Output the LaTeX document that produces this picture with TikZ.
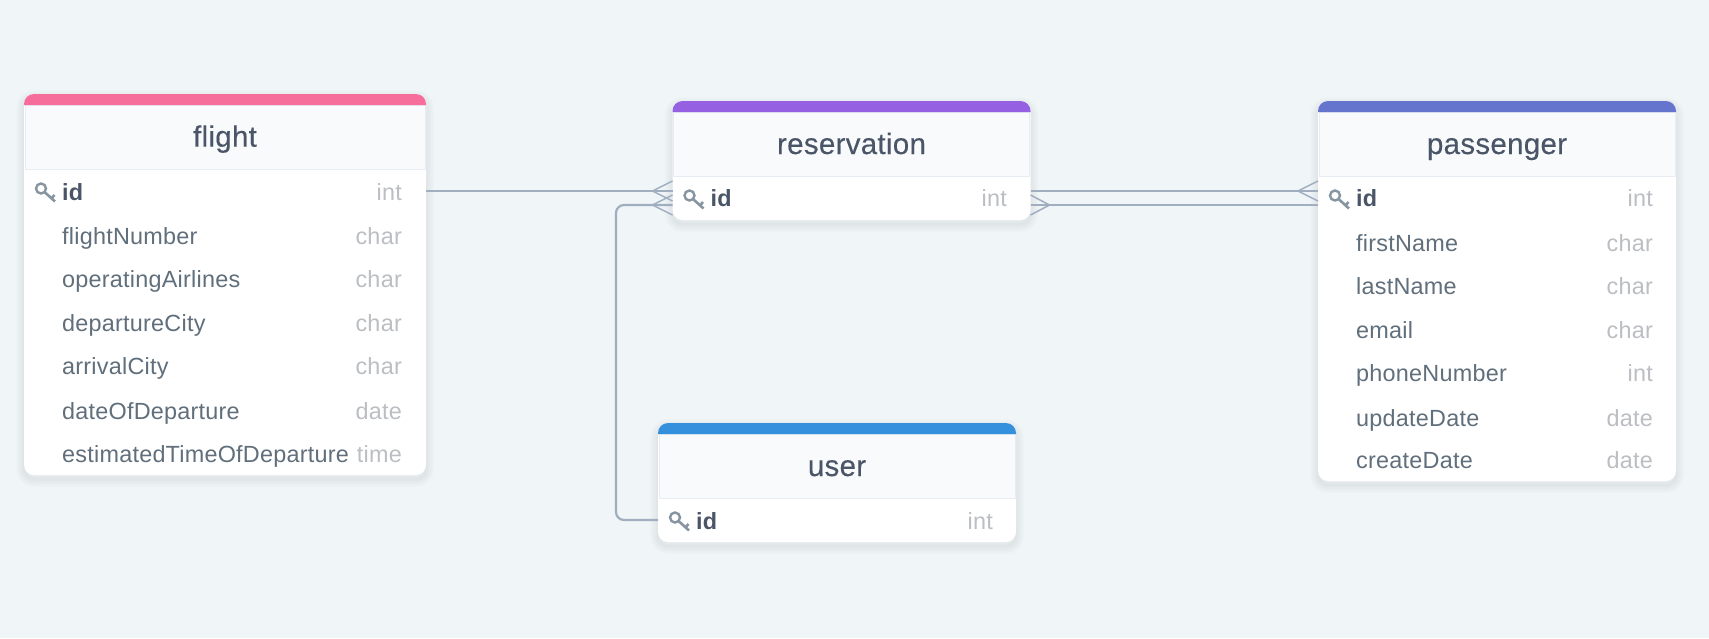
\documentclass[tikz,border=0pt]{standalone}
\usepackage{fontspec}
\setmainfont[LetterSpace=1]{Liberation Sans}
\newfontfamily\titlefont[LetterSpace=1,FakeBold=0.25]{Liberation Sans}
\usepackage{tikz}
\usetikzlibrary{calc}
\definecolor{cbg}{HTML}{F0F5F8}
\definecolor{cpink}{HTML}{F66D9B}
\definecolor{cpurple}{HTML}{9561E2}
\definecolor{cindigo}{HTML}{6574CD}
\definecolor{cblue}{HTML}{3490DC}
\definecolor{chead}{HTML}{F8FAFC}
\definecolor{cheadline}{HTML}{E8EDF4}
\definecolor{ctitle}{HTML}{4A5568}
\definecolor{cfield}{HTML}{606F7B}
\definecolor{ctype}{HTML}{BBBEC2}
\definecolor{ckey}{HTML}{8795A1}
\definecolor{clink}{HTML}{A0AEC0}
\tikzstyle{softshadow} = [draw=black, draw opacity=.012, transform canvas={yshift=-4pt}]
\tikzstyle{tablebody} = [fill=white, rounded corners=10pt, inner sep=0pt, outer sep=0pt,
  preaction={softshadow, line width=16pt}, preaction={softshadow, line width=13pt},
  preaction={softshadow, line width=10pt}, preaction={softshadow, line width=7pt},
  preaction={softshadow, line width=4pt}, preaction={softshadow, line width=1pt}]
\tikzstyle{headcell}  = [fill=chead, draw=cheadline, line width=1pt, inner sep=0pt, outer sep=0pt, minimum height=64pt]
\tikzstyle{title}     = [anchor=base, inner sep=0pt, text=ctitle, font=\fontsize{29.5}{29.5}\titlefont]
\tikzstyle{field}     = [anchor=base west, inner sep=0pt, text=cfield, font=\fontsize{23.4}{23.4}\selectfont]
\tikzstyle{keyfield}  = [anchor=base west, inner sep=0pt, text=ctitle, font=\fontsize{23.4}{23.4}\selectfont\bfseries]
\tikzstyle{type}      = [anchor=base east, inner sep=0pt, text=ctype, font=\fontsize{23.4}{23.4}\selectfont]
\tikzstyle{idrow}     = [inner sep=0pt, outer sep=0pt, minimum height=44pt]
\tikzstyle{link}      = [draw=clink, line width=2.2pt]
\tikzstyle{foot}      = [draw=clink, line width=1.5pt]
\tikzset{keyicon/.pic={
  \draw[ckey, line width=2.4pt] (17,-2.5) circle (5);
  \draw[ckey, line width=2.6pt] (20.5,1) -- (31,10.5) (27.5,7.4) -- (30.5,4);
}}
\newcommand{\crowfoot}[2]{\draw[foot] ($(#1)+(0,-10)$) -- ($(#1)+(#2,0)$) -- ($(#1)+(0,10)$);}
\begin{document}
\begin{tikzpicture}[x=1pt, y=-1pt]
  \useasboundingbox[fill=cbg] (0,0) rectangle (1709,638);

  % flight
  \node[tablebody, minimum width=402pt, minimum height=381pt] (flight) at (225,284.5) {};
  \node[headcell, minimum width=400pt] (flighthead) at (225,137) {};
  \fill[cpink] (flight.north west |- 0,105) [rounded corners=10pt] -- (flight.north west) -- (flight.north east) [sharp corners] -- (flight.north east |- 0,105) -- cycle;
  \node[idrow, minimum width=402pt] (flightrow) at (225,191) {};
  \node[title] (flighttitle) at (225,146.7) {flight};
  \pic at (flightrow.west) {keyicon};
  \draw
    node[keyfield] (flightid) at (62,200) {id}
    node[field] (flightnumber) at (62,244) {flightNumber}
    node[field] (flightairlines) at (62,287) {operatingAirlines}
    node[field] (flightdeparture) at (62,331) {departureCity}
    node[field] (flightarrival) at (62,374) {arrivalCity}
    node[field] (flightdate) at (62,419) {dateOfDeparture}
    node[field] (flighttime) at (62,462) {estimatedTimeOfDeparture}
    node[type] (flighttype1) at (402,200) {int}
    node[type] (flighttype2) at (402,244) {char}
    node[type] (flighttype3) at (402,287) {char}
    node[type] (flighttype4) at (402,331) {char}
    node[type] (flighttype5) at (402,374) {char}
    node[type] (flighttype6) at (402,419) {date}
    node[type] (flighttype7) at (402,462) {time};

  % reservation
  \node[tablebody, minimum width=358pt, minimum height=119pt] (reservation) at (851.5,160.5) {};
  \node[headcell, minimum width=356pt] (reservationhead) at (851.5,144) {};
  \fill[cpurple] (reservation.north west |- 0,112) [rounded corners=10pt] -- (reservation.north west) -- (reservation.north east) [sharp corners] -- (reservation.north east |- 0,112) -- cycle;
  \node[idrow, minimum width=358pt] (reservationrow) at (851.5,198) {};
  \node[title] (reservationtitle) at (851.5,154) {reservation};
  \pic at (reservationrow.west) {keyicon};
  \draw
    node[keyfield] (reservationid) at (710.5,206.7) {id}
    node[type] (reservationtype1) at (1007,206.7) {int};

  % passenger
  \node[tablebody, minimum width=358pt, minimum height=380pt] (passenger) at (1497,291) {};
  \node[headcell, minimum width=356pt] (passengerhead) at (1497,144) {};
  \fill[cindigo] (passenger.north west |- 0,112) [rounded corners=10pt] -- (passenger.north west) -- (passenger.north east) [sharp corners] -- (passenger.north east |- 0,112) -- cycle;
  \node[idrow, minimum width=358pt] (passengerrow) at (1497,198) {};
  \node[title] (passengertitle) at (1497,154) {passenger};
  \pic at (passengerrow.west) {keyicon};
  \draw
    node[keyfield] (passengerid) at (1356,206.7) {id}
    node[field] (passengerfirst) at (1356,251) {firstName}
    node[field] (passengerlast) at (1356,294) {lastName}
    node[field] (passengeremail) at (1356,338) {email}
    node[field] (passengerphone) at (1356,381) {phoneNumber}
    node[field] (passengerupdate) at (1356,426) {updateDate}
    node[field] (passengercreate) at (1356,468.7) {createDate}
    node[type] (passengertype1) at (1653,206.7) {int}
    node[type] (passengertype2) at (1653,251) {char}
    node[type] (passengertype3) at (1653,294) {char}
    node[type] (passengertype4) at (1653,338) {char}
    node[type] (passengertype5) at (1653,381) {int}
    node[type] (passengertype6) at (1653,426) {date}
    node[type] (passengertype7) at (1653,468.7) {date};

  % user
  \node[tablebody, minimum width=358pt, minimum height=119pt] (user) at (837,482.5) {};
  \node[headcell, minimum width=356pt] (userhead) at (837,466) {};
  \fill[cblue] (user.north west |- 0,434) [rounded corners=10pt] -- (user.north west) -- (user.north east) [sharp corners] -- (user.north east |- 0,434) -- cycle;
  \node[idrow, minimum width=358pt] (userrow) at (837,520) {};
  \node[title] (usertitle) at (837,476) {user};
  \pic at (userrow.west) {keyicon};
  \draw
    node[keyfield] (userid) at (696,529.3) {id}
    node[type] (usertype1) at (993,529.3) {int};

  % connectors
  \coordinate (reshigh) at ([yshift=7pt]reservationrow.west);
  \coordinate (reslow) at ([yshift=-7pt]reservationrow.west);
  \coordinate (reshighout) at ([yshift=7pt]reservationrow.east);
  \coordinate (reslowout) at ([yshift=-7pt]reservationrow.east);
  \coordinate (pashigh) at ([yshift=7pt]passengerrow.west);
  \coordinate (paslow) at ([yshift=-7pt]passengerrow.west);
  \coordinate (bend) at (616,0);
  \draw[link] (flightrow.east) -- (reshigh);
  \draw[link] (reshighout) -- (pashigh);
  \draw[link] (reslowout) -- (paslow);
  \draw[link, rounded corners=8pt] (userrow.west) -- (bend |- userrow.west) -- (bend |- reslow) -- (reslow);
  \crowfoot{reshigh}{-20}
  \crowfoot{reslow}{-20}
  \crowfoot{pashigh}{-20}
  \crowfoot{reslowout}{19}
\end{tikzpicture}
\end{document}
